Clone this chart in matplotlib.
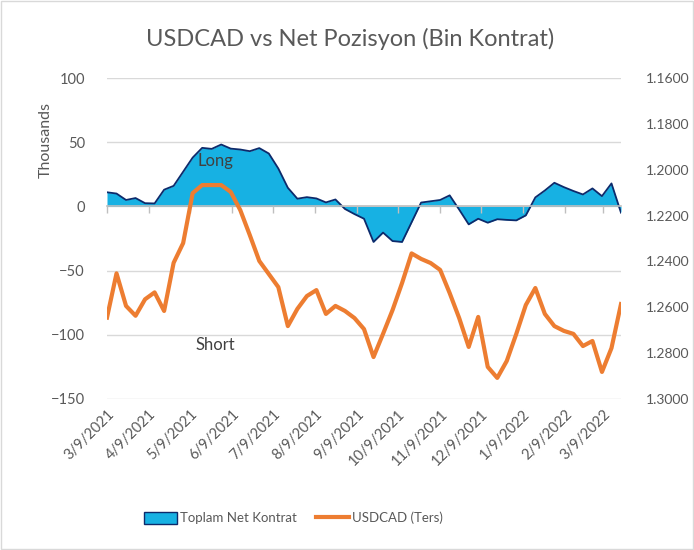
import numpy as np
import pandas as pd
import matplotlib
matplotlib.use('Agg')
import matplotlib.pyplot as plt
import matplotlib.dates as mdates
from matplotlib.patches import Patch, Rectangle
from matplotlib.lines import Line2D
from matplotlib.ticker import FuncFormatter, NullFormatter

plt.rcParams['font.family'] = ['Lato', 'DejaVu Sans']

# --- data (weekly) ---
dates = pd.date_range('2021-03-09', periods=55, freq='7D')

net_kontrat = [11, 10, 5, 6.5, 2.5, 2.3, 13, 16, 27, 38,
               45.6, 44.8, 48.2, 45, 44.3, 43, 45.4, 41.2, 29.5, 14.5,
               6, 7.2, 6.2, 3.1, 5.4, -2, -6, -9.6, -27.7, -20.4,
               -27, -27.7, -12.4, 3, 4, 5, 8.6, -2.5, -14, -9.6,
               -12.7, -10, -10.5, -10.9, -7, 7, 12.4, 18.4, 15, 12,
               9.3, 14, 8, 17.9, -4.9]

usdcad = [1.2645, 1.2452, 1.2594, 1.2637, 1.2565, 1.2535, 1.2616, 1.2406, 1.2320, 1.2102,
          1.2067, 1.2067, 1.2067, 1.2097, 1.2176, 1.2285, 1.2398, 1.2455, 1.2512, 1.2682,
          1.2607, 1.2551, 1.2525, 1.2629, 1.2594, 1.2616, 1.2647, 1.2695, 1.2817, 1.2716,
          1.2612, 1.2494, 1.2365, 1.2389, 1.2407, 1.2437, 1.2538, 1.2647, 1.2773, 1.2642,
          1.2860, 1.2908, 1.2834, 1.2716, 1.2590, 1.2516, 1.2629, 1.2682, 1.2703, 1.2716,
          1.2769, 1.2747, 1.2882, 1.2778, 1.2586]

month_ticks = pd.to_datetime(['2021-03-09', '2021-04-09', '2021-05-09', '2021-06-09',
                              '2021-07-09', '2021-08-09', '2021-09-09', '2021-10-09',
                              '2021-11-09', '2021-12-09', '2022-01-09', '2022-02-09',
                              '2022-03-09'])
left_ticks = [100, 50, 0, -50, -100, -150]
right_ticks = [1.16, 1.18, 1.20, 1.22, 1.24, 1.26, 1.28, 1.30]

TXT = '#595959'
GRID = '#D9D9D9'
AXIS = '#BFBFBF'
BLUE = '#17B1E3'
NAVY = '#0D2A6B'
ORANGE = '#ED7D31'

fig = plt.figure(figsize=(6.94, 5.5), dpi=100)
fig.patches.append(Rectangle((0.001, 0.001), 0.997, 0.997, transform=fig.transFigure,
                             fill=False, edgecolor=GRID, linewidth=1))

ax = fig.add_axes([107 / 694, 151 / 550, 514 / 694, 321 / 550])
ax.fill_between(dates, net_kontrat, 0, color=BLUE, linewidth=0, zorder=2)
ax.plot(dates, net_kontrat, color=NAVY, linewidth=1.3, zorder=3)

ax.set_ylim(-150, 100)
ax.set_yticks(left_ticks)
ax.set_xlim(dates[0], dates[-1])
ax.grid(axis='y', color=GRID, linewidth=1, zorder=0)
for s in ax.spines.values():
    s.set_visible(False)
ax.tick_params(axis='y', length=0, labelsize=10.5, colors=TXT, pad=16)
ax.set_ylabel('Thousands', fontsize=11.5, color=TXT)
ax.yaxis.set_label_coords(-0.105, 0.807)

ax.set_xticks(month_ticks)
ax.xaxis.set_major_formatter(FuncFormatter(
    lambda v, p: f"{mdates.num2date(v).month}/{mdates.num2date(v).day}/{mdates.num2date(v).year}"))
ax.tick_params(axis='x', length=0, labelsize=10.5, colors=TXT, pad=6)
for lbl in ax.get_xticklabels():
    lbl.set_rotation(45)
    lbl.set_ha('right')
    lbl.set_rotation_mode('anchor')

# zero line with tick marks (Excel style axis crossing at 0)
zero_frac = (0 - (-150)) / 250
zax = ax.secondary_xaxis(zero_frac)
zax.set_xticks(month_ticks)
zax.xaxis.set_major_formatter(NullFormatter())
zax.xaxis.set_ticks_position('bottom')
zax.tick_params(axis='x', direction='out', length=5, width=1, color=AXIS)
for s in zax.spines.values():
    s.set_color(AXIS)
    s.set_linewidth(1.2)
zax.set_zorder(4)

ax.text(dates[11] + pd.Timedelta(days=3), 35, 'Long', fontsize=12, color='#404040',
        ha='center', va='center', zorder=5)
ax.text(dates[11] + pd.Timedelta(days=3), -108, 'Short', fontsize=12, color='#404040',
        ha='center', va='center', zorder=5)

ax2 = ax.twinx()
ax2.plot(dates, usdcad, color=ORANGE, linewidth=3, solid_joinstyle='round', zorder=5)
ax2.set_ylim(1.30, 1.16)
ax2.set_yticks(right_ticks)
ax2.yaxis.set_major_formatter(FuncFormatter(lambda v, p: f"{v:.4f}"))
ax2.tick_params(axis='y', length=0, labelsize=10, colors=TXT, pad=18)
for s in ax2.spines.values():
    s.set_visible(False)

fig.text(0.505, 0.93, 'USDCAD vs Net Pozisyon (Bin Kontrat)', fontsize=17, color=TXT,
         ha='center', va='center')

handles = [Patch(facecolor=BLUE, edgecolor=NAVY, linewidth=1),
           Line2D([0], [0], color=ORANGE, linewidth=3)]
fig.legend(handles, ['Toplam Net Kontrat', 'USDCAD (Ters)'], loc='center',
           bbox_to_anchor=(0.423, 0.058), ncol=2, frameon=False, fontsize=9.5,
           labelcolor=TXT, handlelength=2.5, handleheight=1.0, handletextpad=0.2,
           columnspacing=1.5)

fig.savefig('out.png', dpi=100)
